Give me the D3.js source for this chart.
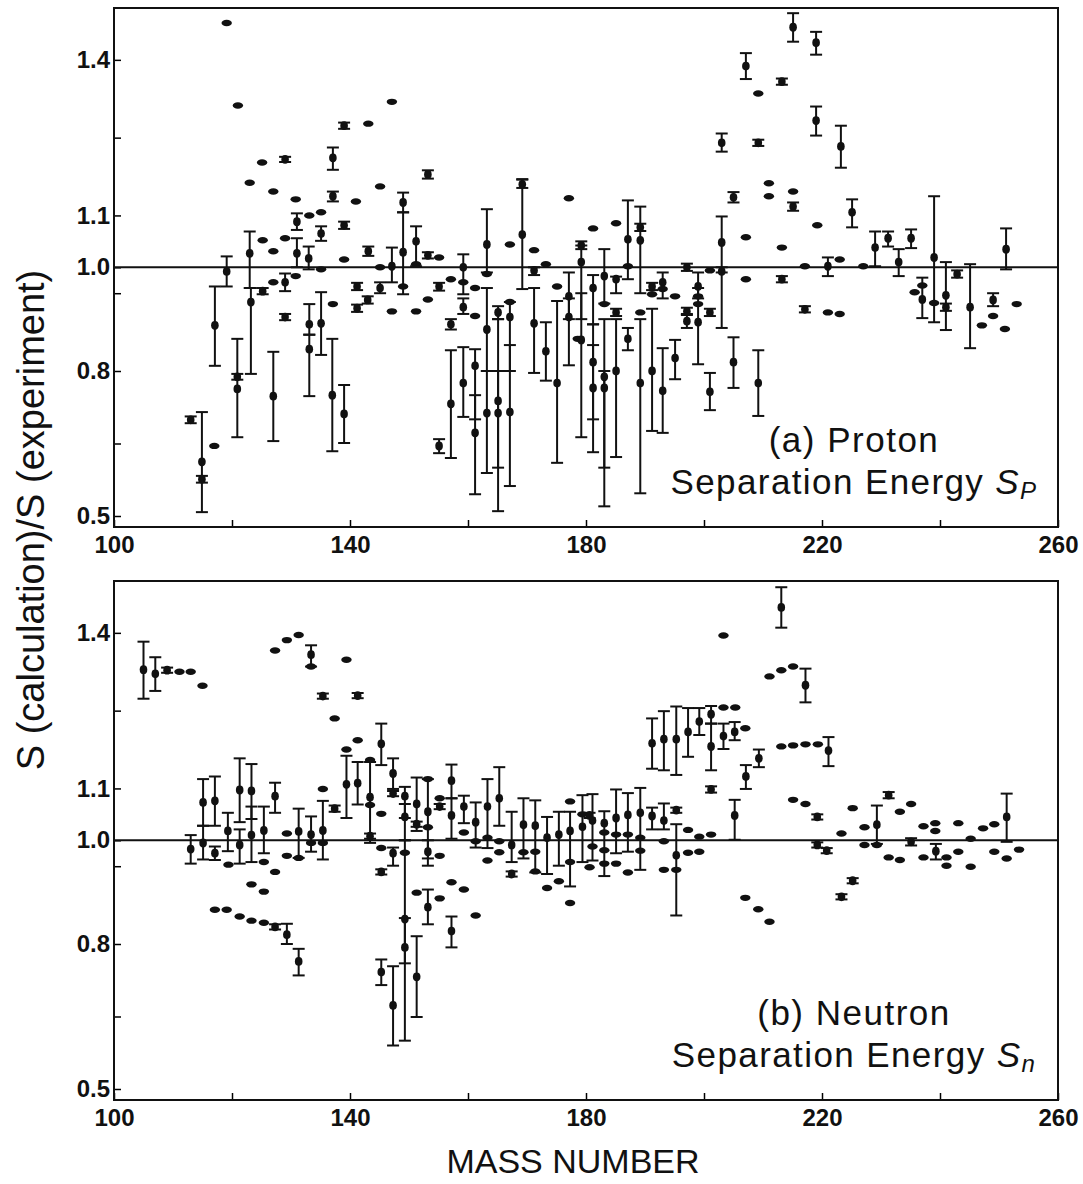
<!DOCTYPE html>
<html>
<head>
<meta charset="utf-8">
<script src="https://cdn.jsdelivr.net/npm/d3@7"></script>
<style>
body { margin: 0; background: #fff; }
svg { display: block; }
text { font-family: "Liberation Sans", Arial, Helvetica, sans-serif; fill: #111; }
</style>
</head>
<body>
<svg id="chart" width="1083" height="1184"></svg>
<script>
// (a) proton separation energy: mass number, ratio, error bar ends (null = no bar)
const protonMass = [
  113, 114.9, 114.9, 117, 117.1, 119.1, 119.1, 120.9, 120.9, 121,
  123, 123, 123.2, 125.1, 125.2, 125.2, 127, 127, 127, 127,
  129, 129, 129, 129, 130.8, 131, 131, 130.8, 133.1, 133,
  133.1, 133.1, 135.1, 135.1, 135.1, 135.1, 137.1, 137.1, 137.1, 137,
  139, 139, 139, 139, 141, 141.2, 141.2, 143.1, 143.1, 143,
  145.1, 145.1, 145.1, 147.1, 147.1, 147.1, 149, 149, 149, 151.2,
  151.2, 151.2, 153.2, 153.2, 153.2, 155.1, 155.1, 155.1, 157.1, 157.1,
  157.1, 159.2, 159.2, 159.2, 159.2, 161.2, 161.2, 161.2, 161.2, 163.2,
  163.2, 163.2, 163.2, 165.1, 165.1, 165.1, 167.1, 167.1, 167.1, 167.1,
  169.2, 169.2, 171.2, 171.2, 171.2, 173.2, 173.2, 175.1, 175.1, 177.1,
  177.1, 177.1, 178.6, 179.2, 179.2, 179.2, 181.2, 181.2, 181.2, 181.2,
  183.1, 183.1, 183.1, 183.1, 185.1, 185.1, 185.1, 185.1, 187.1, 187.1,
  187.1, 189.2, 189.2, 189.2, 189.2, 191.2, 191.2, 191.2, 193, 193,
  193, 195.1, 195.1, 197.1, 197.1, 197.1, 199, 199, 199, 199,
  201, 201, 201, 203, 203, 203, 205, 205, 207.1, 207.1,
  207.1, 209.2, 209.2, 209.2, 211, 211, 213.2, 213.2, 213.2, 215.1,
  215.1, 215.1, 217.1, 217.1, 219, 219, 219.2, 221, 221, 223,
  223, 223.2, 225.1, 227, 229, 231.2, 233, 235.1, 235.7, 237,
  237, 239, 239, 241, 241, 242.9, 245.1, 247.1, 249, 249,
  251.2, 251, 253
];
const protonRatio = [
  .699, .612, .576, .645, .888, 1.471, .992, .788, .763, 1.312,
  1.163, 1.027, .933, 1.202, 1.052, .954, 1.146, 1.031, .971, .748,
  1.208, 1.056, .971, .904, 1.131, 1.088, 1.027, .983, 1.1, 1.017,
  .89, .842, 1.106, 1.065, .996, .892, 1.211, 1.137, .929, .75,
  1.273, 1.081, 1.015, .711, 1.127, .963, .921, 1.277, 1.031, .937,
  1.156, 1.0, .96, 1.319, 1.002, .915, 1.125, 1.029, .963, 1.05,
  1.006, .915, 1.179, 1.023, .938, 1.019, .963, .645, .977, .89,
  .732, 1.0, .971, .923, .775, .96, .906, .81, .672, 1.044,
  .987, .88, .713, .913, .738, .713, 1.044, .933, .904, .715,
  1.16, 1.063, 1.033, .994, .892, 1.006, .838, .963, .775, 1.133,
  .944, .904, .862, 1.042, 1.01, .86, 1.075, .96, .817, .765,
  .983, .929, .788, .765, 1.085, .977, .913, .8, 1.054, 1.002,
  .862, 1.077, 1.052, .913, .775, .963, .948, .8, .971, .958,
  .759, .944, .825, 1.0, .915, .896, .963, .944, .929, .894,
  .994, .913, .757, 1.24, 1.048, .992, 1.135, .817, 1.388, 1.058,
  .977, 1.335, 1.24, .775, 1.162, 1.137, 1.358, 1.038, .977, 1.463,
  1.146, 1.117, 1.002, .919, 1.433, 1.283, 1.081, 1.002, .913, 1.015,
  .91, 1.233, 1.106, 1.002, 1.038, 1.056, 1.01, 1.056, .952, .965,
  .938, 1.019, .931, .946, .923, .987, .923, .888, .937, .906,
  1.035, .881, .929
];
const protonLow = [
  .692, .508, .569, null, .81, null, .963, .782, .663, null,
  null, .96, .794, null, null, .948, null, null, null, .655,
  1.203, null, .954, .898, null, 1.072, 1.0, null, null, .996,
  .87, .748, null, 1.051, null, .831, 1.188, 1.127, null, .634,
  1.267, 1.074, null, .651, null, .956, .914, null, 1.022, .93,
  null, null, .95, null, .971, null, 1.106, .948, null, 1.002,
  null, null, 1.171, 1.017, null, null, .955, .63, null, .88,
  .62, .948, null, .91, .705, null, null, .7, .545, .99,
  null, .8, .589, .9, .6, .51, null, null, .8, .562,
  1.153, .958, null, .985, .796, null, .78, null, .61, null,
  .9, .811, null, 1.035, .9, .663, null, .89, .7, .632,
  .93, null, .52, .6, null, .95, .906, .622, .977, null,
  .84, 1.07, .95, null, .547, .956, null, .676, .94, null,
  .672, null, .783, .993, .908, .883, .94, null, null, .813,
  null, .906, .719, 1.223, .99, .883, 1.125, .765, 1.363, null,
  null, null, 1.234, .707, null, null, 1.352, null, .971, 1.435,
  null, 1.109, null, .913, 1.41, 1.254, null, .983, null, null,
  null, 1.192, 1.077, null, 1.002, 1.04, .983, 1.037, null, null,
  .902, .894, null, .879, .916, .98, .844, null, .925, null,
  .996, null, null
];
const protonHigh = [
  .706, .715, .583, null, .963, null, 1.021, .794, .862, null,
  null, 1.069, .96, null, null, .96, null, null, null, .837,
  1.213, null, .988, .91, null, 1.104, 1.056, null, null, 1.04,
  .929, .87, null, 1.079, null, .952, 1.231, 1.146, null, .862,
  1.279, 1.088, null, .771, null, .97, .928, null, 1.04, .944,
  null, null, .971, null, 1.038, null, 1.144, 1.106, null, 1.079,
  null, null, 1.187, 1.029, null, null, .97, .659, null, .9,
  .84, 1.025, null, .94, .846, null, null, .842, .75, 1.112,
  null, .96, .8, .925, .9, .8, null, null, .933, .85,
  1.169, 1.17, null, 1.0, .96, null, .894, null, .935, null,
  .99, .94, null, 1.05, 1.042, .95, null, .985, .89, .85,
  1.035, null, .9, .8, null, .982, .92, .9, 1.129, null,
  .883, 1.084, 1.117, null, .9, .97, null, .92, .99, null,
  .844, null, .86, 1.007, .922, .91, .99, null, null, .96,
  null, .92, .796, 1.258, 1.098, 1.0, 1.145, .865, 1.413, null,
  null, null, 1.246, .84, null, null, 1.364, null, .983, 1.49,
  null, 1.125, null, .925, 1.454, 1.31, null, 1.019, null, null,
  null, 1.273, 1.131, null, 1.069, 1.069, 1.035, 1.073, null, null,
  .98, 1.137, null, 1.01, .93, .994, 1.006, null, .95, null,
  1.075, null, null
];

// (b) neutron separation energy
const neutronMass = [
  105, 107, 109, 111.1, 113, 115, 113, 115.1, 115.1, 117.1,
  117.1, 117.1, 119.1, 119.3, 119.4, 121.3, 121.3, 121.3, 123.3, 123.3,
  123.3, 123.3, 125.4, 125.4, 125.4, 125.4, 127.3, 127.3, 127.3, 127.3,
  129.3, 129.3, 129.3, 129.3, 131.3, 131.3, 131.3, 131.3, 133.4, 133.4,
  133.4, 133.4, 135.4, 135.4, 135.4, 135.4, 137.4, 137.4, 139.4, 139.4,
  139.4, 141.3, 141.3, 141.3, 143.4, 143.4, 143.4, 143.4, 145.3, 145.3,
  145.3, 145.3, 145.3, 147.3, 147.3, 147.3, 147.3, 149.3, 149.3, 149.3,
  149.3, 149.3, 151.3, 151.3, 151.3, 151.3, 153.2, 153.2, 153.2, 153.2,
  153.2, 155.2, 155.2, 155.2, 155.2, 157.2, 157.2, 157.2, 157.2, 159.3,
  159.3, 159.3, 161.3, 161.3, 161.3, 163.3, 163.3, 163.3, 165.3, 165.3,
  165.3, 167.4, 167.4, 169.4, 169.4, 171.4, 171.4, 171.4, 173.4, 173.4,
  175.4, 175.4, 177.3, 177.3, 177.3, 177.3, 179.4, 179.4, 180.6, 180.6,
  181.1, 181.1, 183.1, 183.1, 183.1, 183.1, 185.1, 185.1, 185.1, 187.1,
  187.1, 187.1, 189.2, 189.2, 189.2, 191.2, 191.2, 193.2, 193.2, 193.2,
  193.2, 195.3, 195.3, 195.3, 195.3, 197.3, 197.3, 197.3, 199.2, 199.2,
  199.2, 201.2, 201.2, 201.2, 201.2, 203.3, 203.3, 203.3, 205.3, 205.2,
  205.2, 207, 207.1, 207, 209.3, 209.2, 211.1, 211.1, 213.1, 213.1,
  213.1, 215.1, 215.1, 215.1, 217.2, 217.2, 217.2, 219.3, 219.2, 219.2,
  220.8, 221.1, 223.3, 225.2, 225.2, 223.3, 227.2, 227.2, 229.3, 229.3,
  231.3, 231.3, 233.2, 233.2, 235.1, 235.1, 237.2, 237.2, 239.2, 239.2,
  239.3, 241.1, 241.1, 243.1, 243.1, 245.2, 245.2, 247.3, 249.2, 249.2,
  251.3, 251.3, 253.4
];
const neutronRatio = [
  1.329, 1.321, 1.328, 1.325, 1.325, 1.298, .983, 1.073, .995, .975,
  1.076, .866, .866, 1.018, .953, 1.097, .991, .853, 1.095, 1.01,
  .915, .845, 1.019, .958, .901, .841, 1.085, 1.366, .939, .833,
  .818, 1.386, 1.013, .97, 1.396, 1.017, .966, .764, 1.358, 1.335,
  1.011, .995, 1.278, 1.099, 1.019, .995, 1.235, 1.061, 1.348, 1.175,
  1.108, 1.279, 1.193, 1.11, 1.155, 1.083, 1.068, 1.008, 1.186, 1.051,
  .985, .939, .742, 1.129, 1.09, .975, .673, 1.085, 1.045, .976,
  .848, .793, 1.07, 1.031, .732, .899, 1.118, 1.055, 1.025, .978,
  .871, .97, .888, 1.081, 1.065, 1.115, 1.048, .919, .825, 1.065,
  1.015, .905, 1.035, .998, .855, 1.065, 1.005, .961, 1.081, .998,
  .977, .991, .935, 1.03, .977, 1.028, .978, .94, 1.005, .908,
  1.011, .921, 1.018, 1.075, .958, .879, 1.026, 1.05, 1.048, .948,
  1.038, .988, 1.033, 1.015, .981, .955, 1.043, 1.011, .955, 1.049,
  1.011, .938, 1.053, 1.005, .98, 1.047, 1.187, 1.195, 1.038, .998,
  .943, 1.195, 1.058, .971, .943, 1.209, 1.02, .976, 1.229, 1.007,
  .978, 1.243, 1.181, 1.098, 1.011, 1.395, 1.256, 1.201, 1.256, 1.209,
  1.048, 1.216, 1.123, .889, 1.158, .867, .843, 1.316, 1.449, 1.328,
  1.181, 1.335, 1.183, 1.078, 1.299, 1.185, 1.07, 1.185, 1.045, .991,
  .98, 1.173, 1.013, 1.062, .922, .891, 1.025, .991, 1.03, .991,
  1.087, .967, 1.055, .962, 1.07, .997, 1.027, .967, 1.033, 1.018,
  .979, .967, .951, 1.033, .978, 1.003, .949, 1.023, 1.031, .978,
  1.045, .965, .982
];
const neutronLow = [
  1.273, 1.288, 1.323, null, null, null, .955, 1.028, .963, .962,
  1.028, null, null, .979, null, 1.035, .955, null, 1.041, .958,
  null, null, .975, null, null, null, 1.053, null, null, .828,
  .8, null, null, null, null, .966, null, .735, 1.335, null,
  .978, null, 1.273, null, .963, null, null, 1.055, null, null,
  1.043, 1.274, null, 1.069, null, .995, null, 1.003, 1.145, null,
  null, .934, .715, 1.099, 1.085, .951, .59, 1.043, 1.0, null,
  .76, .6, 1.018, 1.026, .649, null, null, .965, null, .951,
  .838, null, null, null, 1.06, 1.081, 1.003, null, .793, 1.033,
  null, null, .986, null, null, .985, null, null, 1.028, null,
  null, .958, .93, .965, null, .938, null, null, .935, null,
  .951, null, .911, null, null, null, .958, null, 1.043, null,
  .961, null, .931, null, null, null, .975, null, null, .978,
  null, null, .943, null, null, 1.021, 1.138, 1.135, 1.021, null,
  null, 1.126, 1.053, .855, null, 1.161, null, null, 1.203, null,
  null, 1.225, 1.135, 1.092, null, null, null, 1.176, null, 1.193,
  1.001, null, 1.099, null, 1.141, null, null, null, 1.41, null,
  null, null, null, null, 1.266, null, null, null, 1.04, .986,
  .975, 1.143, null, null, .917, .886, null, null, .993, null,
  1.081, null, null, null, null, .99, null, null, null, null,
  .963, null, null, null, null, null, null, null, null, null,
  .997, null, null
];
const neutronHigh = [
  1.383, 1.353, 1.333, null, null, null, 1.01, 1.118, 1.028, .988,
  1.123, null, null, 1.053, null, 1.158, 1.021, null, 1.147, 1.065,
  null, null, 1.065, null, null, null, 1.111, null, null, .838,
  .839, null, null, null, null, 1.061, null, .79, 1.376, null,
  1.046, null, 1.283, null, 1.076, null, null, 1.067, null, null,
  1.163, 1.284, null, 1.151, null, 1.151, null, 1.013, 1.225, null,
  null, .944, .768, 1.158, 1.095, .986, .754, 1.103, 1.07, null,
  1.0, .85, 1.121, 1.036, .815, null, null, 1.118, null, 1.0,
  .905, null, null, null, 1.07, 1.146, 1.081, null, .853, 1.086,
  null, null, 1.073, null, null, 1.118, null, null, 1.141, null,
  null, 1.055, .94, 1.081, null, 1.077, null, null, 1.045, null,
  1.055, null, 1.055, null, null, null, 1.087, null, 1.053, null,
  1.089, null, 1.056, null, null, null, 1.098, null, null, 1.091,
  null, null, 1.101, null, null, 1.063, 1.235, 1.249, 1.071, null,
  null, 1.258, 1.063, 1.031, null, 1.255, null, null, 1.255, null,
  null, 1.259, 1.225, 1.104, null, null, null, 1.225, null, 1.228,
  1.078, null, 1.145, null, 1.175, null, null, null, 1.488, null,
  null, null, null, null, 1.331, null, null, null, 1.05, .996,
  .985, 1.199, null, null, .927, .896, null, null, 1.067, null,
  1.093, null, null, null, null, 1.004, null, null, null, null,
  .993, null, null, null, null, null, null, null, null, null,
  1.09, null, null
];

const xTicks = [100, 120, 140, 160, 180, 200, 220, 240, 260];
const yTicks = [0.5, 0.65, 0.8, 0.95, 1.0, 1.1, 1.25, 1.4];
const yLabelled = [0.5, 0.8, 1.0, 1.1, 1.4];

const svg = d3.select("#chart");
const x = d3.scaleLinear().domain([100, 260]).range([114, 1058]);
const panelH = 519;
const tickFont = '"Liberation Sans", Arial, sans-serif';

function drawPanel(top, mass, ratio, low, high, name, sub) {
  // the printed axis is stretched below 0.8
  const y = d3.scaleLinear().domain([0.5, 0.8, 1.5]).range([top + 508, top + 363, top]);
  const g = svg.append("g");

  g.append("g")
    .attr("transform", `translate(0,${top + panelH})`)
    .call(d3.axisBottom(x).tickValues(xTicks).tickSize(-7).tickPadding(9)
      .tickFormat(d => (d - 100) % 40 === 0 ? d : ""))
    .call(a => a.select(".domain").remove())
    .call(a => a.selectAll("line").attr("stroke-width", 1.5))
    .call(a => a.selectAll("text").attr("font-size", 24).attr("font-weight", "bold")
      .attr("font-family", tickFont));

  g.append("g")
    .attr("transform", `translate(${x(100)},0)`)
    .call(d3.axisLeft(y).tickValues(yTicks).tickSize(-7).tickPadding(4)
      .tickFormat(d => yLabelled.includes(d) ? d3.format(".1f")(d) : ""))
    .call(a => a.select(".domain").remove())
    .call(a => a.selectAll("line").attr("stroke-width", 1.5))
    .call(a => a.selectAll("text").attr("font-size", 24).attr("font-weight", "bold")
      .attr("font-family", tickFont));

  g.append("rect")
    .attr("x", x(100)).attr("y", top)
    .attr("width", x(260) - x(100)).attr("height", panelH)
    .attr("fill", "none").attr("stroke", "#111").attr("stroke-width", 2);

  g.append("line")
    .attr("x1", x(100)).attr("x2", x(260))
    .attr("y1", y(1)).attr("y2", y(1))
    .attr("stroke", "#111").attr("stroke-width", 2);

  const idx = d3.range(mass.length);
  const withBar = idx.filter(i => low[i] != null);

  const bars = g.append("g").attr("stroke", "#111").attr("stroke-width", 2);
  bars.selectAll(".stem").data(withBar).join("line")
    .attr("x1", i => x(mass[i])).attr("x2", i => x(mass[i]))
    .attr("y1", i => y(low[i])).attr("y2", i => y(high[i]));
  bars.selectAll(".cap").data(withBar.flatMap(i => [[i, low[i]], [i, high[i]]])).join("line")
    .attr("x1", d => x(mass[d[0]]) - 6).attr("x2", d => x(mass[d[0]]) + 6)
    .attr("y1", d => y(d[1])).attr("y2", d => y(d[1]));

  g.append("g").selectAll("ellipse").data(idx).join("ellipse")
    .attr("cx", i => x(mass[i])).attr("cy", i => y(ratio[i]))
    .attr("rx", i => low[i] != null ? 3.8 : 5.2)
    .attr("ry", i => low[i] != null ? 4.4 : 3.2)
    .attr("fill", "#111");

  const cx = 854;
  g.append("text").attr("x", cx).attr("y", top + 444)
    .attr("text-anchor", "middle").attr("font-size", 35)
    .attr("letter-spacing", 1.5).text(name);
  const t = g.append("text").attr("x", cx).attr("y", top + 486)
    .attr("text-anchor", "middle").attr("font-size", 35).attr("letter-spacing", 1.4);
  t.append("tspan").text("Separation Energy ");
  t.append("tspan").attr("font-style", "italic").text("S");
  t.append("tspan").attr("font-style", "italic").attr("font-size", 24)
    .attr("dy", 5).text(sub);
}

drawPanel(8, protonMass, protonRatio, protonLow, protonHigh, "(a) Proton", "P");
drawPanel(581, neutronMass, neutronRatio, neutronLow, neutronHigh, "(b) Neutron", "n");

svg.append("text")
  .attr("transform", "translate(44,520) rotate(-90)")
  .attr("text-anchor", "middle").attr("font-size", 38)
  .text("S (calculation)/S (experiment)");

svg.append("text")
  .attr("x", 573).attr("y", 1173)
  .attr("text-anchor", "middle").attr("font-size", 34)
  .text("MASS NUMBER");
</script>
</body>
</html>
